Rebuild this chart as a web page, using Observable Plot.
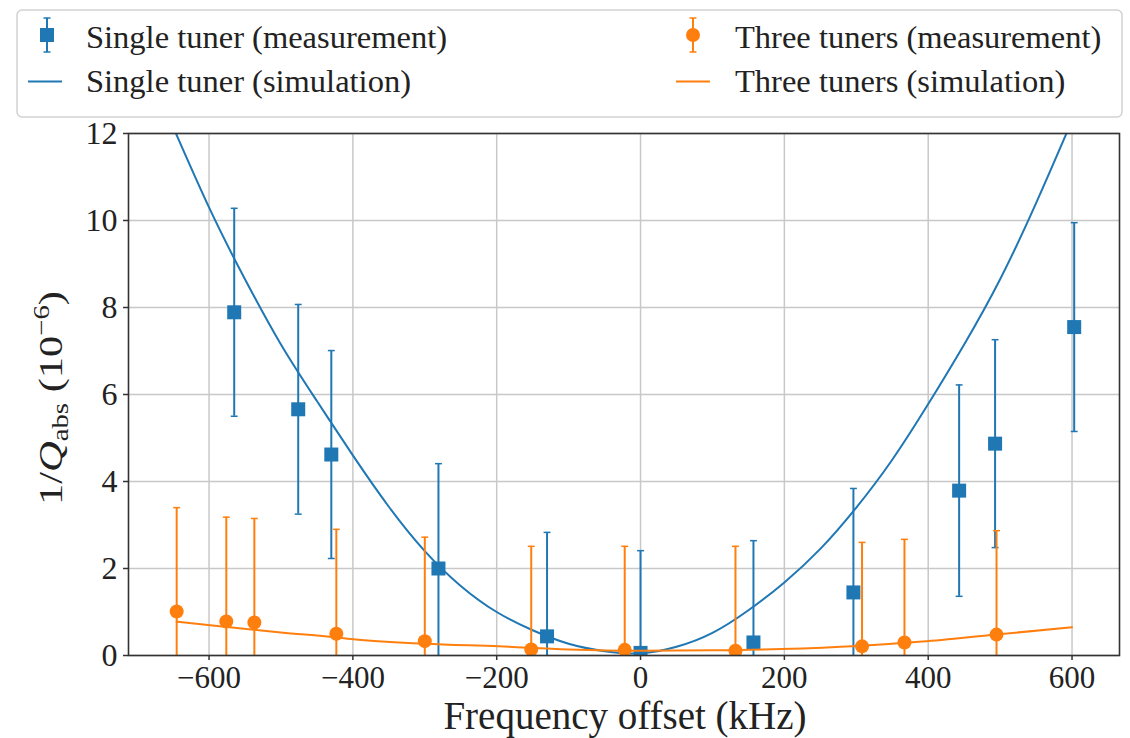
<!DOCTYPE html>
<html><head><meta charset="utf-8">
<script src="https://cdn.jsdelivr.net/npm/d3@7"></script>
<script src="https://cdn.jsdelivr.net/npm/@observablehq/plot@0.6"></script>
<style>
body{margin:0;background:#fff;}
#wrap{position:relative;width:1130px;height:738px;overflow:hidden;}
#chart{position:absolute;left:0;top:0;}
#legend{position:absolute;left:0;top:0;}
</style></head>
<body><div id="wrap"><div id="chart"></div><svg id="legend" width="1130" height="125"></svg></div>
<script>
// ---- data ----
const singleX   = [-565, -476, -430, -281, -130, 0, 157, 296, 443, 493, 603];
const singleY   = [7.89, 5.66, 4.62, 2.00, 0.44, 0.06, 0.30, 1.45, 3.79, 4.87, 7.55];
const singleErr = [2.39, 2.41, 2.39, 2.41, 2.39, 2.35, 2.34, 2.39, 2.43, 2.39, 2.40];

const threeX   = [-645, -576, -537, -423, -300, -152, -22, 132, 308, 367, 495];
const threeY   = [1.01, 0.78, 0.76, 0.50, 0.33, 0.14, 0.13, 0.11, 0.21, 0.30, 0.48];
const threeErr = [2.39, 2.40, 2.39, 2.40, 2.39, 2.37, 2.38, 2.40, 2.39, 2.37, 2.39];

const singleSimX = [-660, -650, -600, -550, -500, -450, -400, -350, -300, -250, -200, -150, -100, -50, 0, 50, 100, 150, 200, 250, 300, 350, 400, 450, 500, 550, 600];
const singleSimY = [12.5, 12.15, 10.3, 8.65, 7.15, 5.85, 4.6, 3.42, 2.4, 1.6, 1.0, 0.58, 0.27, 0.1, 0.05, 0.2, 0.52, 1.04, 1.68, 2.45, 3.4, 4.5, 5.78, 7.15, 8.65, 10.4, 12.3];

const threeSimX = [-645, -595, -500, -425, -396, -300, -197, -100, 0, 100, 196, 302, 392, 487, 600];
const threeSimY = [0.78, 0.69, 0.53, 0.42, 0.37, 0.27, 0.21, 0.14, 0.11, 0.12, 0.15, 0.22, 0.32, 0.47, 0.65];

const xTicks = [-600, -400, -200, 0, 200, 400, 600];
const yTicks = [0, 2, 4, 6, 8, 10, 12];

const seriesNames = ["Single tuner (measurement)", "Single tuner (simulation)", "Three tuners (measurement)", "Three tuners (simulation)"];
const xLabel = "Frequency offset (kHz)";

// ---- build tables ----
const blue = "#1f77b4", orange = "#ff7f0e";
const single = singleX.map((x, i) => ({x, y: singleY[i], lo: singleY[i] - singleErr[i], hi: singleY[i] + singleErr[i]}));
const three = threeX.map((x, i) => ({x, y: threeY[i], lo: threeY[i] - threeErr[i], hi: threeY[i] + threeErr[i]}));
const singleSim = singleSimX.map((x, i) => ({x, y: singleSimY[i]}));
const threeSim = threeSimX.map((x, i) => ({x, y: threeSimY[i]}));

const cap = {draw(ctx, size) { const w = Math.sqrt(size) / 2; ctx.moveTo(-w, 0); ctx.lineTo(w, 0); }};
const fmt = d => d < 0 ? "\u2212" + Math.abs(d) : String(d);
const font = "Liberation Serif";

function errMarks(data, color, marker, r) {
  return [
    Plot.ruleX(data, {x: "x", y1: "lo", y2: "hi", stroke: color, strokeWidth: 2, clip: true}),
    Plot.dot(data, {x: "x", y: "lo", symbol: cap, r: 3.9, stroke: color, strokeWidth: 1.5, clip: true}),
    Plot.dot(data, {x: "x", y: "hi", symbol: cap, r: 3.9, stroke: color, strokeWidth: 1.5, clip: true}),
    Plot.dot(data, {x: "x", y: "y", symbol: marker, r, fill: color, stroke: "none", clip: true})
  ];
}

const plot = Plot.plot({
  width: 1130, height: 738,
  marginTop: 133, marginBottom: 83, marginLeft: 128, marginRight: 11,
  x: {domain: [-712, 666]},
  y: {domain: [0, 12]},
  style: {background: "white", color: "#222", overflow: "visible"},
  marks: [
    Plot.gridX(xTicks, {stroke: "#c8c8c8", strokeOpacity: 1, strokeWidth: 1.5}),
    Plot.gridY(yTicks, {stroke: "#c8c8c8", strokeOpacity: 1, strokeWidth: 1.5}),
    Plot.axisX(xTicks, {tickSize: 5, tickPadding: 5, tickFormat: fmt, label: null, fontFamily: font, fontSize: 31, stroke: "#333", strokeWidth: 1.5}),
    Plot.axisY(yTicks, {tickSize: 5, tickPadding: 6, tickFormat: fmt, label: null, fontFamily: font, fontSize: 32, stroke: "#333", strokeWidth: 1.5}),
    ...errMarks(single, blue, "square", 7.9),
    Plot.line(singleSim, {x: "x", y: "y", stroke: blue, strokeWidth: 2, curve: "natural", clip: true}),
    ...errMarks(three, orange, "circle", 7),
    Plot.line(threeSim, {x: "x", y: "y", stroke: orange, strokeWidth: 2, curve: "monotone-x", clip: true}),
    Plot.frame({stroke: "#333", strokeWidth: 1.6})
  ]
});
document.getElementById("chart").appendChild(plot);

// axis titles
const svg = d3.select(plot);
svg.append("text").attr("x", 625).attr("y", 729).attr("text-anchor", "middle")
  .attr("font-family", font).attr("font-size", 39).attr("fill", "#222").text(xLabel);
const yl = svg.append("text").attr("transform", "translate(62,398) rotate(-90) scale(1.25,1)")
  .attr("text-anchor", "middle").attr("font-family", font).attr("font-size", 34).attr("fill", "#222");
yl.append("tspan").text("1/");
yl.append("tspan").attr("font-style", "italic").text("Q");
yl.append("tspan").attr("font-size", 23).attr("dy", 6).text("abs");
yl.append("tspan").attr("dy", -6).text(" (10");
yl.append("tspan").attr("font-size", 23).attr("dy", -13).text("\u22126");
yl.append("tspan").attr("dy", 13).text(")");

// legend
const lg = d3.select("#legend");
lg.append("rect").attr("x", 17).attr("y", 10).attr("width", 1105).attr("height", 107).attr("rx", 5)
  .attr("fill", "white").attr("stroke", "#d2d2d2").attr("stroke-width", 1.5);
function legMeas(cx, color, marker) {
  const g = lg.append("g").attr("stroke", color);
  g.append("line").attr("x1", cx).attr("x2", cx).attr("y1", 18).attr("y2", 52).attr("stroke-width", 2);
  g.append("line").attr("x1", cx - 3.5).attr("x2", cx + 3.5).attr("y1", 18).attr("y2", 18).attr("stroke-width", 1.5);
  g.append("line").attr("x1", cx - 3.5).attr("x2", cx + 3.5).attr("y1", 52).attr("y2", 52).attr("stroke-width", 1.5);
  if (marker === "square") lg.append("rect").attr("x", cx - 7).attr("y", 28).attr("width", 14).attr("height", 14).attr("fill", color);
  else lg.append("circle").attr("cx", cx).attr("cy", 35).attr("r", 7).attr("fill", color);
}
function legLine(x1, x2, color) {
  lg.append("line").attr("x1", x1).attr("x2", x2).attr("y1", 81.5).attr("y2", 81.5).attr("stroke", color).attr("stroke-width", 2);
}
function legText(x, y, t) {
  lg.append("text").attr("x", x).attr("y", y).attr("font-family", font).attr("font-size", 32.5).attr("fill", "#222").text(t);
}
legMeas(47, blue, "square"); legText(86, 48, seriesNames[0]);
legLine(28, 62, blue); legText(86, 92, seriesNames[1]);
legMeas(693, orange, "circle"); legText(735, 48, seriesNames[2]);
legLine(676, 710, orange); legText(735, 92, seriesNames[3]);
</script>
</body></html>
